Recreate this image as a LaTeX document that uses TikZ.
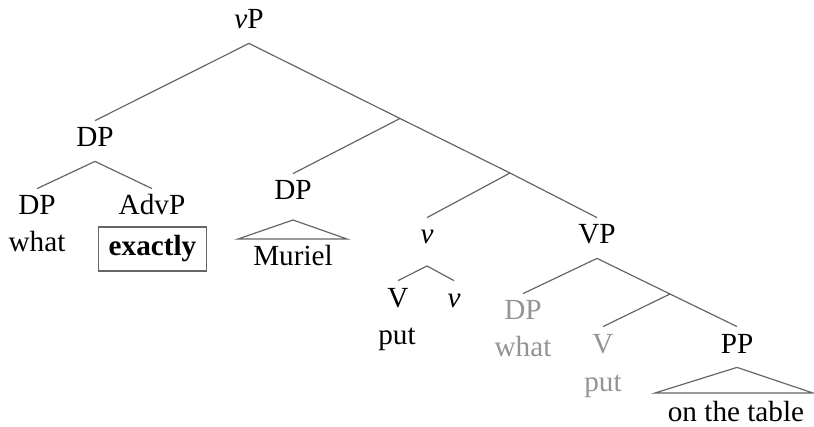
\documentclass[tikz,border=0pt]{standalone}
\usepackage{fontspec}
\setmainfont{Liberation Serif}
\definecolor{copygray}{gray}{0.58}
\definecolor{linegray}{gray}{0.4}
\begin{document}
\begin{tikzpicture}[x=0.5pt,y=-0.5pt,font=\fontsize{14.6}{16}\selectfont,
  cat/.style={anchor=base,inner xsep=1pt,inner ysep=4pt,text height=9pt,text depth=3pt},
  word/.style={anchor=base,inner sep=1pt},
  lowcopy/.style={text=copygray},
  branch/.style={draw=linegray,line width=0.6pt},
  markbox/.style={draw=linegray,line width=0.6pt,inner xsep=5pt,inner ysep=4.5pt,text height=10pt,text depth=3pt}]
\useasboundingbox (0,0) rectangle (814,427);
\node[cat] (vP) at (249,29) {\textit{v}P};
\node[cat] (DPa) at (95,147) {DP};
\node[cat] (DPwh) at (37,215) {DP};
\node[word] (what) at (37,252) {what};
\node[cat] (AdvP) at (152,215) {AdvP};
\node[markbox,anchor=base] (exactly) at (152.5,256) {\textbf{exactly}};
\node[cat] (DPm) at (293,200) {DP};
\node[word] (Muriel) at (293,266) {Muriel};
\node[cat] (vh) at (427,244) {\textit{v}};
\node[cat] (V) at (398,307) {V};
\node[cat] (vsm) at (454,307) {\textit{v}};
\node[word] (put) at (397,344) {put};
\node[cat] (VP) at (597,244) {VP};
\node[cat,lowcopy] (DPg) at (523,320) {DP};
\node[word,lowcopy] (whatg) at (523,357) {what};
\node[cat,lowcopy] (Vg) at (603,353) {V};
\node[word,lowcopy] (putg) at (603,392) {put};
\node[cat] (PP) at (737,353) {PP};
\node[word] (table) at (736,421) {on the table};
\coordinate (vbar) at (400,118.5);
\coordinate (vbarb) at (510,173);
\coordinate (Vbar) at (670,294);
\coordinate (vtop) at (427,266);
\coordinate (mtop) at (293,220);
\coordinate (mleft) at (238,239);
\coordinate (mright) at (347,239);
\coordinate (tleft) at (655,393);
\coordinate (tright) at (813,393);
\draw[branch] (vP.south) -- (DPa.north);
\draw[branch] (vP.south) -- (vbar) -- (vbarb) -- (VP.north);
\draw[branch] (DPa.south) -- (DPwh.north);
\draw[branch] (DPa.south) -- (AdvP.north);
\draw[branch] (vbar) -- (DPm.north);
\draw[branch] (mtop) -- (mleft) -- (mright) -- cycle;
\draw[branch] (vbarb) -- (vh.north);
\draw[branch] (vtop) -- (V.north);
\draw[branch] (vtop) -- (vsm.north);
\draw[branch] (VP.south) -- (DPg.north);
\draw[branch] (VP.south) -- (Vbar) -- (PP.north);
\draw[branch] (Vbar) -- (Vg.north);
\draw[branch] (PP.south) -- (tleft) -- (tright) -- cycle;
\end{tikzpicture}
\end{document}
